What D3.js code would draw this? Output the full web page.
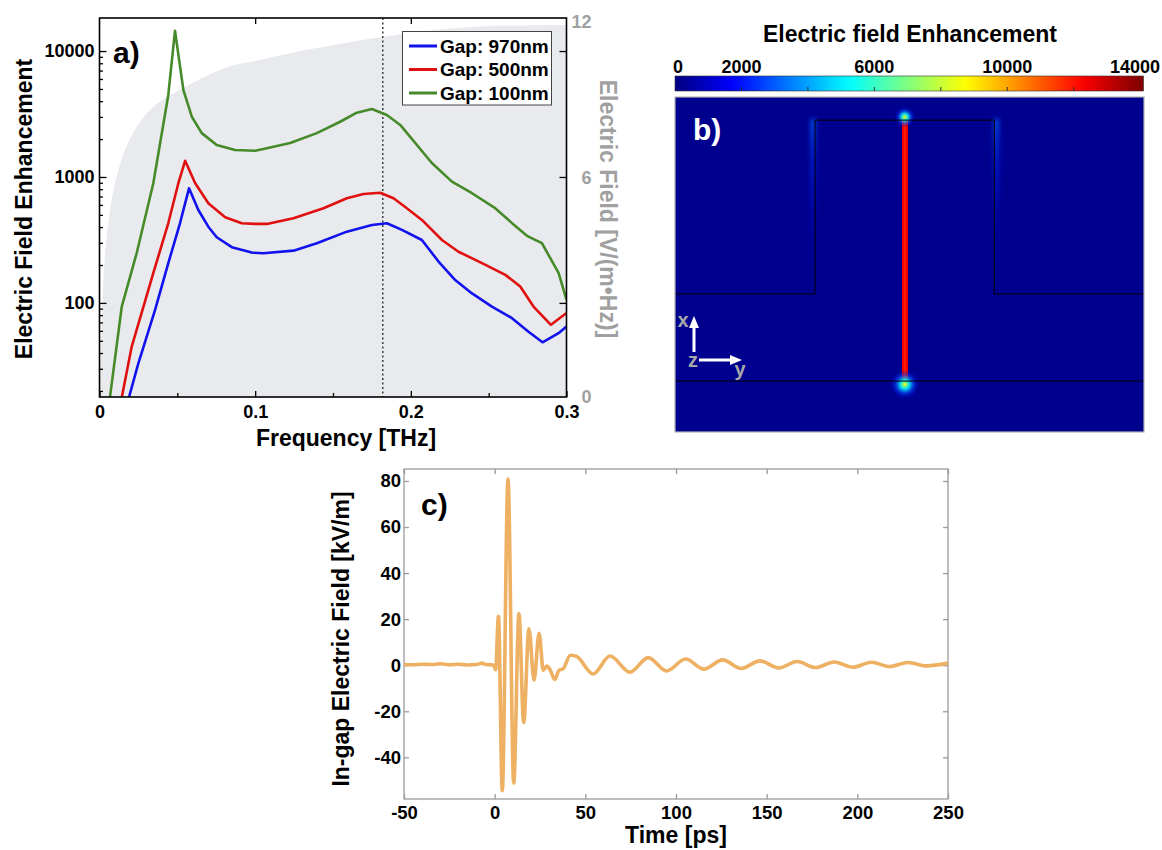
<!DOCTYPE html>
<html><head><meta charset="utf-8">
<script src="https://cdn.jsdelivr.net/npm/d3@7"></script>
<style>
body{margin:0;background:#fff;}
svg{display:block;font-family:"Liberation Sans",Arial,Helvetica,sans-serif;font-weight:bold;}
</style></head><body>
<svg id="fig" width="1162" height="850"></svg>
<script>
// ================= DATA =================
// Panel a: electric field enhancement vs frequency (THz)
const seriesNames = ["Gap: 970nm", "Gap: 500nm", "Gap: 100nm"];
const freqBlue = [0.0185,0.0249,0.0357,0.0442,0.0517,0.0575,0.0635,0.0699,0.0753,0.085,0.0978,0.1053,0.1246,0.1396,0.1589,0.175,0.1846,0.1943,0.2071,0.2178,0.2285,0.2393,0.2521,0.265,0.2756,0.2846,0.2949,0.3];
const enhBlue  = [17,33,88,207,429,813,547,403,332,277,251,248,260,298,368,416,429,380,316,213,152,119,93.5,75.7,59,48.7,57.5,65];
const freqRed  = [0.014,0.0207,0.0346,0.0442,0.0507,0.055,0.0614,0.0699,0.0807,0.0914,0.1,0.1075,0.1246,0.1439,0.1589,0.1696,0.1803,0.1889,0.1964,0.2071,0.22,0.2306,0.2457,0.2607,0.2703,0.2788,0.29,0.3];
const enhRed   = [17,45,173,431,896,1345,896,618,479,429,424,424,470,565,678,733,750,678,578,456,316,255,207,167,135,93.5,67,83];
const freqGreen= [0.0065,0.0143,0.0239,0.0346,0.0442,0.0485,0.0539,0.0593,0.0657,0.0753,0.0871,0.1,0.1053,0.1225,0.1396,0.1546,0.1653,0.175,0.1846,0.1932,0.2135,0.2264,0.2393,0.2542,0.265,0.2746,0.2842,0.2949,0.3];
const enhGreen = [17,93.5,249,896,4480,14500,4900,3010,2230,1795,1640,1617,1667,1862,2230,2746,3240,3465,3105,2590,1291,918,743,565,430,341,298,173,106];
// incident spectrum (right axis, V/(m·Hz))
const spectrumFreq  = [0,0.0013,0.0022,0.0035,0.0055,0.010,0.0183,0.0324,0.0549,0.0825,0.0999,0.1395,0.1994,0.2412,0.3];
const spectrumField = [0,1.84,2.93,3.89,4.71,5.86,7.34,8.61,9.49,10.26,10.49,10.98,11.56,11.80,11.87];
const markerFreq = 0.182;
const freqTicks = [0,0.1,0.2,0.3];
const freqMinorTicks = [0.05,0.15,0.25];
const enhTicks = [100,1000,10000];
const enhMinorTicks = [20,30,40,50,60,70,80,90,200,300,400,500,600,700,800,900,2000,3000,4000,5000,6000,7000,8000,9000];
const spectrumTicks = [0,6,12];

// Panel b: field enhancement map (coordinates in µm: y horizontal 0..14, x vertical 0..10)
const cbTicks = [0,2000,6000,10000,14000];
const cbMinorTicks = [2000,4000,6000,8000,10000,12000];
const jetValues = [0,1750,5250,8750,12250,14000];
const jetColors = ["#000080","#0000ff","#00ffff","#ffff00","#ff0000","#800000"];
const backgroundField = 200;
const gapField = 12300;
const gapCoreField = 11600;
const gapY = [6.79, 6.94];      // gap edges (y, µm)
const gapX = [1.52, 9.31];      // gap extent (x, µm)
const electrodeOutline = [[0,4.12],[4.18,4.12],[4.18,9.31],[9.53,9.31],[9.53,4.12],[14,4.12]]; // [y,x]
const substrateLine = [[0,1.52],[14,1.52]];
const hotSpots = [{y:6.86, x:9.40, peak:9000, r:0.32},{y:6.86, x:1.42, peak:8600, r:0.45}];
const edgeGlows = [{y:4.18, side:-1, x0:4.4, x1:9.35, peak:3200},{y:9.53, side:1, x0:4.4, x1:9.35, peak:3200}];

// Panel c: in-gap electric field vs time
const timePs = [-50,-45,-40,-35,-30,-25,-20,-15,-10,-7,-5,-2.5,-0.7,0.55,2.1,4.2,7.35,10.5,13.4,16,18.9,21.7,24.5,26.8,28.8,30.7,33.1,35.5,37.7,41.8,45,54.3,63.6,74.6,84.7,94.8,105.3,115.4,125.7,136.1,146.2,156.7,166.8,177,187.2,197.6,207.7,217.8,228,238,250];
const fieldKV = [0.3,0.2,0.4,0.3,0.6,0.2,0.4,0.1,0.3,0.9,0.3,0.2,0,-1.9,21.2,-54.5,80.8,-51.2,22.4,-24.9,15.8,-6.5,13.9,-2.2,-0.4,-2.2,-6.2,-2.2,-1.6,4.3,3.9,-3.8,4.0,-3.0,3.3,-2.5,2.7,-1.7,2.3,-1.4,1.9,-1.2,1.6,-1.0,1.4,-0.9,1.3,-0.6,1.2,-0.3,0.9];
const timeTicks = [-50,0,50,100,150,200,250];
const fieldTicks = [-40,-20,0,20,40,60,80];

// ================= DRAW =================
const svg = d3.select("#fig");
const defs = svg.append("defs");
const fmt = d => String(d);

// ---------- Panel a ----------
const A = {l:99.5, r:566.5, t:18, b:397};
const xA = d3.scaleLinear().domain([0,0.3]).range([A.l,A.r]);
const yA = d3.scaleLog().domain([17.9,18300]).range([A.b,A.t]);
const yAR = d3.scaleLinear().domain([0,6,12]).range([A.b,178,21.5]);
defs.append("clipPath").attr("id","clipA").append("rect")
  .attr("x",A.l).attr("y",A.t).attr("width",A.r-A.l).attr("height",A.b-A.t);
const gA = svg.append("g");
const plotA = gA.append("g").attr("clip-path","url(#clipA)");
plotA.append("path")
  .datum(d3.zip(spectrumFreq, spectrumField))
  .attr("d", d3.area().x(d=>xA(d[0])).y0(A.b).y1(d=>yAR(d[1])).curve(d3.curveCatmullRom.alpha(0.5)))
  .attr("fill","#e8eaed");
plotA.append("line").attr("x1",xA(markerFreq)).attr("x2",xA(markerFreq)).attr("y1",A.t).attr("y2",A.b)
  .attr("stroke","#222").attr("stroke-width",1.3).attr("stroke-dasharray","2,2.5");
const series = [
  {f:freqBlue, v:enhBlue, c:"#1212ee"},
  {f:freqRed, v:enhRed, c:"#e01010"},
  {f:freqGreen, v:enhGreen, c:"#468a2a"}
];
const lineA = d3.line().x(d=>xA(d[0])).y(d=>yA(d[1]));
series.forEach(s=>{
  plotA.append("path").datum(d3.zip(s.f,s.v)).attr("d",lineA)
    .attr("fill","none").attr("stroke",s.c).attr("stroke-width",2.6).attr("stroke-linejoin","round");
});
// axes a
function styleAxis(g, color, size){
  g.select(".domain").remove();
  g.selectAll("line").attr("stroke",color).attr("stroke-width",1.3);
  g.selectAll("text").attr("font-size",size).attr("font-weight","bold").attr("font-family","Liberation Sans, Arial, sans-serif");
}
let ax;
ax = gA.append("g").attr("transform",`translate(0,${A.b})`)
  .call(d3.axisBottom(xA).tickValues(freqTicks).tickSizeInner(-6).tickSizeOuter(0).tickPadding(8)
    .tickFormat(d=> d===0 ? "0" : d3.format(".1f")(d)));
styleAxis(ax,"#000",18); ax.selectAll("text").attr("fill","#000");
ax = gA.append("g").attr("transform",`translate(0,${A.b})`)
  .call(d3.axisBottom(xA).tickValues(freqMinorTicks).tickSizeInner(-4).tickSizeOuter(0).tickFormat(""));
styleAxis(ax,"#000",18);
ax = gA.append("g").attr("transform",`translate(0,${A.t})`)
  .call(d3.axisTop(xA).tickValues([0.1,0.2]).tickSizeInner(-6).tickSizeOuter(0).tickFormat(""));
styleAxis(ax,"#000",18);
ax = gA.append("g").attr("transform",`translate(${A.l},0)`)
  .call(d3.axisLeft(yA).tickValues(enhTicks).tickSizeInner(-7).tickSizeOuter(0).tickPadding(5).tickFormat(d3.format("d")));
styleAxis(ax,"#000",18); ax.selectAll("text").attr("fill","#000");
ax = gA.append("g").attr("transform",`translate(${A.l},0)`)
  .call(d3.axisLeft(yA).tickValues(enhMinorTicks).tickSizeInner(-3.5).tickSizeOuter(0).tickFormat(""));
styleAxis(ax,"#000",18);
ax = gA.append("g").attr("transform",`translate(${A.r},0)`)
  .call(d3.axisRight(yA).tickValues(enhTicks).tickSizeInner(-7).tickSizeOuter(0).tickFormat(""));
styleAxis(ax,"#000",18);
ax = gA.append("g").attr("transform",`translate(${A.r},0)`)
  .call(d3.axisRight(yAR).tickValues(spectrumTicks).tickSize(0).tickPadding(25).tickFormat(fmt));
styleAxis(ax,"#a0a0a0",18); ax.selectAll("text").attr("fill","#a0a0a0").attr("text-anchor","end");
gA.append("rect").attr("x",A.l).attr("y",A.t).attr("width",A.r-A.l).attr("height",A.b-A.t)
  .attr("fill","none").attr("stroke","#000").attr("stroke-width",1.6);
// legend
const leg = gA.append("g");
leg.append("rect").attr("x",402.5).attr("y",31.5).attr("width",149).attr("height",73.5)
  .attr("fill","#fff").attr("stroke","#444").attr("stroke-width",1);
seriesNames.forEach((n,i)=>{
  const yy = 46 + i*23.5;
  leg.append("line").attr("x1",409).attr("x2",437).attr("y1",yy).attr("y2",yy)
    .attr("stroke",series[i].c).attr("stroke-width",3);
  leg.append("text").attr("x",440).attr("y",yy).attr("dy","0.36em").attr("font-size",19).attr("fill","#000").text(n);
});
gA.append("text").attr("x",113).attr("y",63).attr("font-size",30).text("a)");
gA.append("text").attr("transform","translate(32,209) rotate(-90)").attr("text-anchor","middle")
  .attr("font-size",23).text("Electric Field Enhancement");
gA.append("text").attr("x",346).attr("y",446).attr("text-anchor","middle").attr("font-size",23).text("Frequency [THz]");
gA.append("text").attr("transform","translate(600,209) rotate(90)").attr("text-anchor","middle")
  .attr("font-size",23).attr("fill","#a0a0a0").text("Electric Field [V/(m\u2022Hz)]");

// ---------- Panel b ----------
const jet = d3.scaleLinear().domain(jetValues).range(jetColors).interpolate(d3.interpolateRgb).clamp(true);
const B = {l:675, r:1144, t:97, b:432};
const yB = d3.scaleLinear().domain([0,14]).range([B.l,B.r]);   // horizontal (y axis of device)
const xB = d3.scaleLinear().domain([0,10]).range([B.b,B.t]);   // vertical (x axis of device)
const gB = svg.append("g");
gB.append("text").attr("x",910).attr("y",42).attr("text-anchor","middle").attr("font-size",23).text("Electric field Enhancement");
// colorbar
const cb = d3.scaleLinear().domain([0,14100]).range([675,1143.5]);
const cbGrad = defs.append("linearGradient").attr("id","cbGrad");
d3.range(0,1.0001,0.02).forEach(t=>{
  cbGrad.append("stop").attr("offset",t).attr("stop-color",jet(t*14100));
});
gB.append("rect").attr("x",cb(0)).attr("y",76).attr("width",cb(14100)-cb(0)).attr("height",15)
  .attr("fill","url(#cbGrad)").attr("stroke","#333").attr("stroke-width",0.6);
gB.selectAll(".cbtick").data(cbMinorTicks).join("line").attr("x1",d=>cb(d)).attr("x2",d=>cb(d))
  .attr("y1",87).attr("y2",91).attr("stroke","#333").attr("stroke-width",1);
gB.selectAll(".cblab").data(cbTicks).join("text")
  .attr("x",d=> d===0 ? cb(d)+3 : (d===14000 ? 1160 : cb(d)))
  .attr("y",73).attr("text-anchor",d=> d===14000 ? "end" : "middle").attr("font-size",18).text(fmt);
// field map
defs.append("clipPath").attr("id","clipB").append("rect")
  .attr("x",B.l).attr("y",B.t).attr("width",B.r-B.l).attr("height",B.b-B.t);
const blur2 = defs.append("filter").attr("id","blur2").attr("x","-100%").attr("y","-20%").attr("width","300%").attr("height","140%");
blur2.append("feGaussianBlur").attr("stdDeviation",2.5);
const blur1 = defs.append("filter").attr("id","blur1").attr("x","-50%").attr("y","-50%").attr("width","200%").attr("height","200%");
blur1.append("feGaussianBlur").attr("stdDeviation",0.6);
const mapB = gB.append("g").attr("clip-path","url(#clipB)");
mapB.append("rect").attr("x",B.l).attr("y",B.t).attr("width",B.r-B.l).attr("height",B.b-B.t).attr("fill",jet(backgroundField));
edgeGlows.forEach((e,i)=>{
  const gid = "edge"+i;
  const lg = defs.append("linearGradient").attr("id",gid).attr("x1",0).attr("y1",0).attr("x2",0).attr("y2",1);
  lg.append("stop").attr("offset",0).attr("stop-color",jet(e.peak)).attr("stop-opacity",0.95);
  lg.append("stop").attr("offset",0.3).attr("stop-color",jet(e.peak*0.75)).attr("stop-opacity",0.6);
  lg.append("stop").attr("offset",1).attr("stop-color",jet(backgroundField)).attr("stop-opacity",0);
  const w = yB(0.12)-yB(0);
  const x0 = e.side<0 ? yB(e.y)-w : yB(e.y);
  mapB.append("rect").attr("x",x0).attr("width",w).attr("y",xB(e.x1)).attr("height",xB(e.x0)-xB(e.x1))
    .attr("fill",`url(#${gid})`).attr("filter","url(#blur2)");
});
mapB.append("rect").attr("x",yB(gapY[0])-0.5).attr("width",yB(gapY[1])-yB(gapY[0])+1)
  .attr("y",xB(gapX[1])).attr("height",xB(gapX[0])-xB(gapX[1])).attr("fill",jet(gapField)).attr("filter","url(#blur1)");
mapB.append("rect").attr("x",yB((gapY[0]+gapY[1])/2)-0.8).attr("width",1.6)
  .attr("y",xB(gapX[1])).attr("height",xB(gapX[0])-xB(gapX[1])).attr("fill",jet(gapCoreField)).attr("opacity",0.8);
hotSpots.forEach((h,i)=>{
  const gid = "hot"+i;
  const rg = defs.append("radialGradient").attr("id",gid);
  rg.append("stop").attr("offset",0).attr("stop-color",jet(h.peak)).attr("stop-opacity",1);
  rg.append("stop").attr("offset",0.3).attr("stop-color",jet(h.peak*0.6)).attr("stop-opacity",0.9);
  rg.append("stop").attr("offset",0.65).attr("stop-color",jet(h.peak*0.3)).attr("stop-opacity",0.5);
  rg.append("stop").attr("offset",1).attr("stop-color",jet(backgroundField*4)).attr("stop-opacity",0);
  mapB.append("circle").attr("cx",yB(h.y)).attr("cy",xB(h.x)).attr("r",yB(h.r)-yB(0)).attr("fill",`url(#${gid})`);
});
const lineB = d3.line().x(d=>yB(d[0])).y(d=>xB(d[1]));
mapB.append("path").datum(electrodeOutline).attr("d",lineB).attr("fill","none").attr("stroke","#000").attr("stroke-width",1);
mapB.append("path").datum(substrateLine).attr("d",lineB).attr("fill","none").attr("stroke","#000").attr("stroke-width",1);
gB.append("rect").attr("x",B.l).attr("y",B.t).attr("width",B.r-B.l).attr("height",B.b-B.t)
  .attr("fill","none").attr("stroke","#b4b4b4").attr("stroke-width",1.2);
// annotations
gB.append("text").attr("x",693).attr("y",140).attr("font-size",30).attr("fill","#fff").text("b)");
const arr = gB.append("g");
arr.append("line").attr("x1",694).attr("x2",694).attr("y1",352).attr("y2",326).attr("stroke","#fff").attr("stroke-width",3);
arr.append("path").attr("d","M694,316 L699,328 L689,328 Z").attr("fill","#fff");
arr.append("line").attr("x1",699).attr("x2",732).attr("y1",360).attr("y2",360).attr("stroke","#fff").attr("stroke-width",3);
arr.append("path").attr("d","M742,360 L730,355 L730,365 Z").attr("fill","#fff");
arr.append("text").attr("x",683).attr("y",327).attr("text-anchor","middle").attr("font-size",20).attr("fill","#a8a8a8").text("x");
arr.append("text").attr("x",693).attr("y",367).attr("text-anchor","middle").attr("font-size",20).attr("fill","#a8a8a8").text("z");
arr.append("text").attr("x",740).attr("y",376).attr("text-anchor","middle").attr("font-size",20).attr("fill","#a8a8a8").text("y");

// ---------- Panel c ----------
const C = {l:404, r:948, t:469, b:799};
const xC = d3.scaleLinear().domain([-50,250]).range([C.l,C.r]);
const yC = d3.scaleLinear().domain([-58.1,85.2]).range([C.b,C.t]);
const gC = svg.append("g");
defs.append("clipPath").attr("id","clipC").append("rect")
  .attr("x",C.l).attr("y",C.t).attr("width",C.r-C.l).attr("height",C.b-C.t);
const grayAx = "#9a9a9a";
ax = gC.append("g").attr("transform",`translate(0,${C.b})`)
  .call(d3.axisBottom(xC).tickValues(timeTicks).tickSizeInner(-5).tickSizeOuter(0).tickPadding(6.5).tickFormat(fmt));
styleAxis(ax,grayAx,18.5); ax.selectAll("text").attr("fill","#000");
ax = gC.append("g").attr("transform",`translate(0,${C.t})`)
  .call(d3.axisTop(xC).tickValues(timeTicks).tickSizeInner(-5).tickSizeOuter(0).tickFormat(""));
styleAxis(ax,grayAx,18.5);
ax = gC.append("g").attr("transform",`translate(${C.l},0)`)
  .call(d3.axisLeft(yC).tickValues(fieldTicks).tickSizeInner(-5).tickSizeOuter(0).tickPadding(3).tickFormat(fmt));
styleAxis(ax,grayAx,18.5); ax.selectAll("text").attr("fill","#000");
ax = gC.append("g").attr("transform",`translate(${C.r},0)`)
  .call(d3.axisRight(yC).tickValues(fieldTicks).tickSizeInner(-5).tickSizeOuter(0).tickFormat(""));
styleAxis(ax,grayAx,18.5);
gC.append("rect").attr("x",C.l).attr("y",C.t).attr("width",C.r-C.l).attr("height",C.b-C.t)
  .attr("fill","none").attr("stroke",grayAx).attr("stroke-width",1.3);
gC.append("g").attr("clip-path","url(#clipC)").append("path")
  .datum(d3.zip(timePs, fieldKV))
  .attr("d", d3.line().x(d=>xC(d[0])).y(d=>yC(d[1])).curve(d3.curveMonotoneX))
  .attr("fill","none").attr("stroke","#eeb062").attr("stroke-width",3.6).attr("stroke-linejoin","round");
gC.append("text").attr("x",421).attr("y",515).attr("font-size",30).text("c)");
gC.append("text").attr("transform","translate(349,639) rotate(-90)").attr("text-anchor","middle")
  .attr("font-size",23).text("In-gap Electric Field [kV/m]");
gC.append("text").attr("x",676).attr("y",843).attr("text-anchor","middle").attr("font-size",23).text("Time [ps]");
</script>
</body></html>
